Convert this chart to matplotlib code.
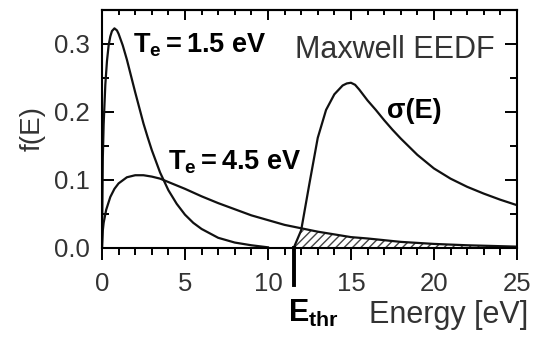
import numpy as np
import matplotlib
matplotlib.use("Agg")
import matplotlib.pyplot as plt
from matplotlib.ticker import MultipleLocator, FormatStrFormatter

plt.rcParams['font.family'] = ['Liberation Sans', 'DejaVu Sans']
plt.rcParams['mathtext.fontset'] = 'custom'
plt.rcParams['mathtext.rm'] = 'Liberation Sans'
plt.rcParams['mathtext.bf'] = 'Liberation Sans:bold'
plt.rcParams['mathtext.it'] = 'Liberation Sans:italic'

# Maxwell EEDF, Te = 1.5 eV
E_15 = [0, 0.05, 0.1, 0.2, 0.3, 0.4, 0.5, 0.6, 0.75, 0.9, 1.0, 1.25, 1.5, 1.75, 2.0,
        2.25, 2.5, 2.75, 3.0, 3.5, 4.0, 4.5, 5.0, 5.5, 6.0, 7.0, 8.0, 9.0, 10.0]
f_15 = [0, 0.133, 0.182, 0.240, 0.275, 0.298, 0.311, 0.319, 0.323, 0.320, 0.315, 0.298,
        0.277, 0.253, 0.229, 0.206, 0.183, 0.163, 0.144, 0.111, 0.085, 0.065, 0.049,
        0.037, 0.028, 0.015, 0.008, 0.004, 0.001]

# Maxwell EEDF, Te = 4.5 eV
E_45 = [0, 0.05, 0.1, 0.25, 0.5, 0.75, 1, 1.5, 2, 2.5, 3, 3.5, 4, 5, 6, 7, 8, 9, 10,
        11, 12, 13, 14, 15, 16, 18, 20, 22, 25]
f_45 = [0, 0.026, 0.037, 0.056, 0.075, 0.087, 0.095, 0.104, 0.107, 0.107, 0.105, 0.102,
        0.097, 0.087, 0.076, 0.066, 0.057, 0.048, 0.041, 0.034, 0.029, 0.024, 0.020,
        0.016, 0.014, 0.009, 0.006, 0.004, 0.002]

# cross section sigma(E)
E_sig = [11.55, 12.0, 12.5, 13.0, 13.5, 14.0, 14.5, 14.75, 15.0, 15.25, 15.5, 16.0, 16.5,
         17.0, 17.5, 18.0, 19.0, 20.0, 21.0, 22.0, 23.0, 24.0, 25.0]
f_sig = [0.0, 0.026, 0.095, 0.162, 0.203, 0.226, 0.239, 0.242, 0.243, 0.240, 0.233, 0.217,
         0.203, 0.188, 0.174, 0.161, 0.137, 0.117, 0.102, 0.090, 0.080, 0.071, 0.063]

E_thr = 11.55

xticks = [0, 5, 10, 15, 20, 25]
yticks = [0.0, 0.1, 0.2, 0.3]

plt.rcParams['hatch.linewidth'] = 1.0
plt.rcParams['hatch.color'] = '#444444'

fig = plt.figure(figsize=(5.34, 3.40), dpi=100)
ax = fig.add_axes([0.191, 0.2706, 0.777, 0.70])

lw = 1.6
ax.plot(E_15, f_15, color='#111111', lw=lw)
ax.plot(E_45, f_45, color='#111111', lw=lw)
ax.plot(E_sig, f_sig, color='#111111', lw=lw)

# hatched overlap region
xh = np.union1d([x for x in E_45 if x >= E_thr], E_sig)
yh = np.minimum(np.interp(xh, E_45, f_45), np.interp(xh, E_sig, f_sig))
ax.fill_between(xh, 0, yh, facecolor='none', hatch='////', edgecolor='#444444', linewidth=0)

# threshold marker
ax.plot([E_thr, E_thr], [0, -0.055], color='black', lw=2.8, clip_on=False)

ax.set_xlim(0, 25)
ax.set_ylim(0, 0.35)
ax.set_xticks(xticks)
ax.set_yticks(yticks)
ax.xaxis.set_minor_locator(MultipleLocator(1))
ax.yaxis.set_minor_locator(MultipleLocator(0.05))
ax.yaxis.set_major_formatter(FormatStrFormatter('%.1f'))

for s in ax.spines.values():
    s.set_linewidth(1.5)

ax.tick_params(axis='x', which='both', direction='out', top=False, width=1.4,
               labelsize=18.5, labelcolor='#333333', pad=9)
ax.tick_params(axis='x', which='major', length=8.5)
ax.tick_params(axis='x', which='minor', length=5)
ax.tick_params(axis='y', which='both', direction='in', left=True, right=True, width=1.4,
               labelsize=18.5, labelcolor='#333333', pad=9)
ax.tick_params(axis='y', which='major', length=8.5)
ax.tick_params(axis='y', which='minor', length=5)

sec = ax.secondary_xaxis('top')
sec.set_xticks(xticks)
sec.xaxis.set_minor_locator(MultipleLocator(1))
sec.tick_params(axis='x', which='both', direction='in', labeltop=False, width=1.4)
sec.tick_params(axis='x', which='major', length=7)
sec.tick_params(axis='x', which='minor', length=3.5)
sec.spines['top'].set_linewidth(1.5)

ax.set_ylabel('f(E)', fontsize=20, color='#333333', labelpad=6)

ax.text(1.87, 0.287, r'$\mathbf{T_e = 1.5\ eV}$', fontsize=19.5, color='black')
ax.text(11.6, 0.279, 'Maxwell EEDF', fontsize=22, color='#333333')
ax.text(17.2, 0.191, 'σ(E)', fontsize=19.5, fontweight='bold', color='black')
ax.text(3.98, 0.115, r'$\mathbf{T_e = 4.5\ eV}$', fontsize=19.5, color='black')
ax.text(11.2, -0.109, r'$\mathbf{E_{thr}}$', fontsize=22, color='black', clip_on=False)
ax.text(16.1, -0.110, 'Energy [eV]', fontsize=22, color='#333333', clip_on=False)

fig.savefig('out.png', dpi=100)
